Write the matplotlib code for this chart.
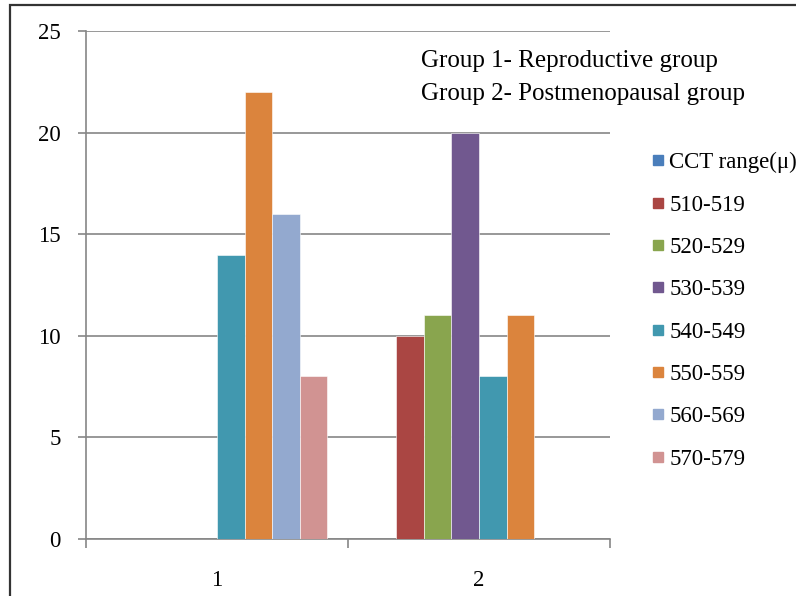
import matplotlib.pyplot as plt
from matplotlib.lines import Line2D
from matplotlib.patches import Rectangle
import numpy as np

plt.rcParams["font.family"] = ["Liberation Serif", "DejaVu Serif"]

groups = ["1", "2"]
series = ["CCT range(\u03bc)", "510-519", "520-529", "530-539",
          "540-549", "550-559", "560-569", "570-579"]
group1 = [0, 0, 0, 0, 14, 22, 16, 8]
group2 = [0, 10, 11, 20, 8, 11, 0, 0]
colors = ["#4A7EBB", "#AA4643", "#89A54E", "#71588F",
          "#4198AF", "#DB843D", "#93A9CF", "#D19392"]
notes = ["Group 1- Reproductive group", "Group 2- Postmenopausal group"]

W, H = 796, 596
fig = plt.figure(figsize=(W / 100, H / 100), dpi=100)
ax = fig.add_axes([86 / W, 1 - 539 / H, (610 - 86) / W, (539 - 31) / H])

# excel style clustered bars, gap width 150%
n = len(series)
bw = 1 / (n + 1.5)
x = np.arange(len(groups))
for i, name in enumerate(series):
    vals = [group1[i], group2[i]]
    ax.bar(x - n * bw / 2 + (i + 0.5) * bw, vals, width=bw,
           color=colors[i], edgecolor="white", linewidth=0.4, zorder=3)

ax.set_xlim(-0.5, 1.5)
ax.set_ylim(0, 25)
ax.set_yticks(range(0, 26, 5))
ax.set_xticks(x)
ax.set_xticklabels(groups)
ax.set_xticks([-0.5, 0.5, 1.5], minor=True)

grey = "#868686"
ax.grid(axis="y", color=grey, linewidth=1.2, zorder=0)
for s in ["top", "right"]:
    ax.spines[s].set_visible(False)
for s in ["left", "bottom"]:
    ax.spines[s].set_color(grey)
    ax.spines[s].set_linewidth(1.2)
ax.tick_params(axis="y", length=6, width=1.2, color=grey, pad=12,
               labelsize=16.5)
ax.tick_params(axis="x", which="major", length=0, pad=22, labelsize=16.5)
ax.tick_params(axis="x", which="minor", length=6.5, width=1.2, color=grey)

# group description text
fig.text(421 / W, 1 - 61 / H, notes[0], fontsize=18, va="center")
fig.text(421 / W, 1 - 94 / H, notes[1], fontsize=18, va="center")

handles = [Line2D([], [], marker="s", linestyle="", markersize=7.5,
                  markerfacecolor=c, markeredgecolor=c) for c in colors]
fig.legend(handles, series, loc="upper left",
           bbox_to_anchor=(651 / W, 1 - 152 / H), frameon=False,
           fontsize=16.5, handlelength=0.6, handletextpad=0.2,
           labelspacing=0.93, borderaxespad=0, borderpad=0)

# outer frame, cut off at right and bottom like the source image
fig.add_artist(Rectangle((9.5 / W, -0.1), 1.2, 1 - 4.5 / H + 0.1,
                         transform=fig.transFigure, fill=False,
                         edgecolor="#333333", linewidth=1.6))

fig.savefig("out.png", dpi=100)
